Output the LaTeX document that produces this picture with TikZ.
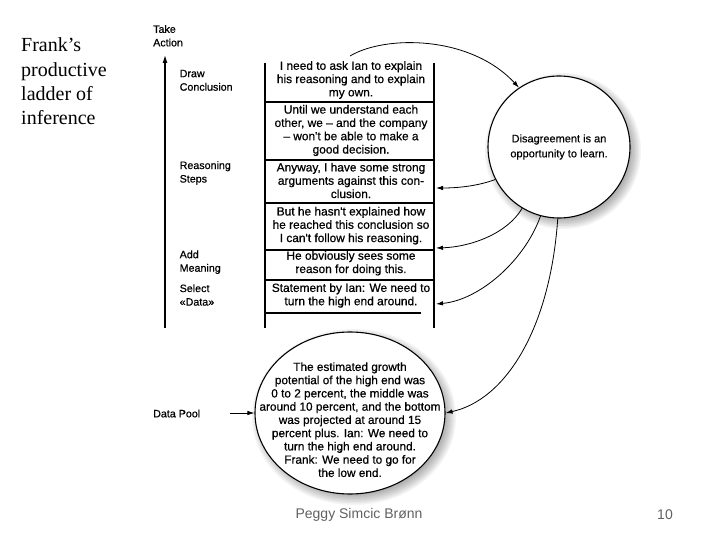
\documentclass[tikz,border=0pt]{standalone}
\usepackage{fontspec}
\setmainfont{Liberation Sans}
\newfontfamily\titlefont{Liberation Serif}
\newfontfamily\heavy[FakeBold=0.6]{Liberation Sans}
\newfontfamily\semiheavy[FakeBold=0.3]{Liberation Sans}
\usetikzlibrary{arrows.meta,shapes.geometric}
\begin{document}
\begin{tikzpicture}[x=1pt,y=-1pt,
  lab/.style={font=\heavy\fontsize{10.7}{13.5}\selectfont, align=left, anchor=west, inner sep=0pt},
  boxtxt/.style={font=\heavy\fontsize{11.9}{13.3}\selectfont, align=center, inner sep=0pt},
  arr/.style={line width=0.8pt, -{Latex[length=7pt,width=4.5pt]}},
  rail/.style={line width=1.1pt},
  rung/.style={line width=1.5pt},
  bubble/.style={draw, line width=1.1pt, fill=white, inner sep=0pt},
  foot/.style={font=\fontsize{14}{16}\selectfont, text=black!62, inner sep=0pt}]
\useasboundingbox (0,0) rectangle (720,540);
\fill[white] (0,0) rectangle (720,540);

% title
\node[font=\titlefont\fontsize{20}{24.3}\selectfont, align=left, anchor=west, inner sep=0pt] (title) at (21,81.5) {Frank’s\\productive\\ladder of\\inference};

% ladder side labels
\node[lab] (take) at (153,35.8) {Take\\Action};
\node[lab] (draw) at (179.5,80.3) {Draw\\Conclusion};
\node[lab] (reas) at (179.5,173) {Reasoning\\Steps};
\node[lab] (addm) at (179.5,262.2) {Add\\Meaning};
\node[lab] (sel) at (179.5,295) {Select\\«Data»};
\node[lab] (dp) at (153,413.5) {Data Pool};

% vertical arrow
\coordinate (lb) at (165,328);
\coordinate (lt) at (165,55);
\draw[line width=1.2pt, -{Latex[length=8pt,width=5pt]}] (lb) -- (lt);

% ladder rails and rungs
\draw[rail] (265,63) -- (265,328);
\draw[rail] (434,63) -- (434,328);
\foreach \yy in {102,160,203,250,280} \draw[rung] (265,\yy) -- (434,\yy);
\draw[rung] (265,313) -- (421,313);

% ladder texts
\node[boxtxt] (b1) at (351,80) {I need to ask Ian to explain\\his reasoning and to explain\\my own.};
\node[boxtxt] (b2) at (351,130.5) {Until we understand each\\other, we – and the company\\– won't be able to make a\\good decision.};
\node[boxtxt] (b3) at (351,180.5) {Anyway, I have some strong\\arguments against this con-\\clusion.};
\node[boxtxt] (b4) at (351,225.7) {But he hasn't explained how\\he reached this conclusion so\\I can't follow his reasoning.};
\node[boxtxt] (b5) at (351,263.3) {He obviously sees some\\reason for doing this.};
\node[boxtxt] (b6) at (351,295.5) {Statement by Ian: We need to\\turn the high end around.};

% shadows
\foreach \d in {0,1.5,...,12} {
  \fill[black,opacity=0.045] (563,151) circle[radius=66pt+\d pt];
  \fill[black,opacity=0.045] (354,417) ellipse[x radius=90pt+\d pt, y radius=76pt+\d pt];
}

% bubbles
\node[bubble, circle, minimum size=142pt, align=center, font=\semiheavy\fontsize{11}{15}\selectfont] (dis) at (559,147) {Disagreement is an\\opportunity to learn.};
\node[bubble, ellipse, minimum width=190pt, minimum height=162pt] (data) at (350,413) {};
\node[font=\heavy\fontsize{11.8}{13.25}\selectfont, align=center, inner sep=0pt] (datatxt) at (350,419.7) {The estimated growth\\potential of the high end was\\0 to 2 percent, the middle was\\around 10 percent, and the bottom\\was projected at around 15\\percent plus. Ian: We need to\\turn the high end around.\\Frank: We need to go for\\the low end.};

% connectors
\coordinate (topstart) at (350,56);
\draw[arr] (topstart) .. controls (385,35) and (470,35) .. (dis.124);
\coordinate (r3) at (436,188);
\coordinate (r4) at (436,248);
\coordinate (r6) at (436,304);
\draw[arr] (dis.207) .. controls (478,186) and (458,188) .. (r3);
\draw[arr] (dis.239) .. controls (507,234) and (470,247) .. (r4);
\draw[arr] (dis.255) .. controls (525,260) and (480,300) .. (r6);
\draw[arr] (dis.269) .. controls (550,330) and (505,400) .. (data.east);
\coordinate (dpa) at (230,413);
\draw[arr] (dpa) -- (data.west);

% footer
\node[foot] (author) at (359,515) {Peggy Simcic Brønn};
\node[foot] (page) at (665,515) {10};
\end{tikzpicture}
\end{document}
